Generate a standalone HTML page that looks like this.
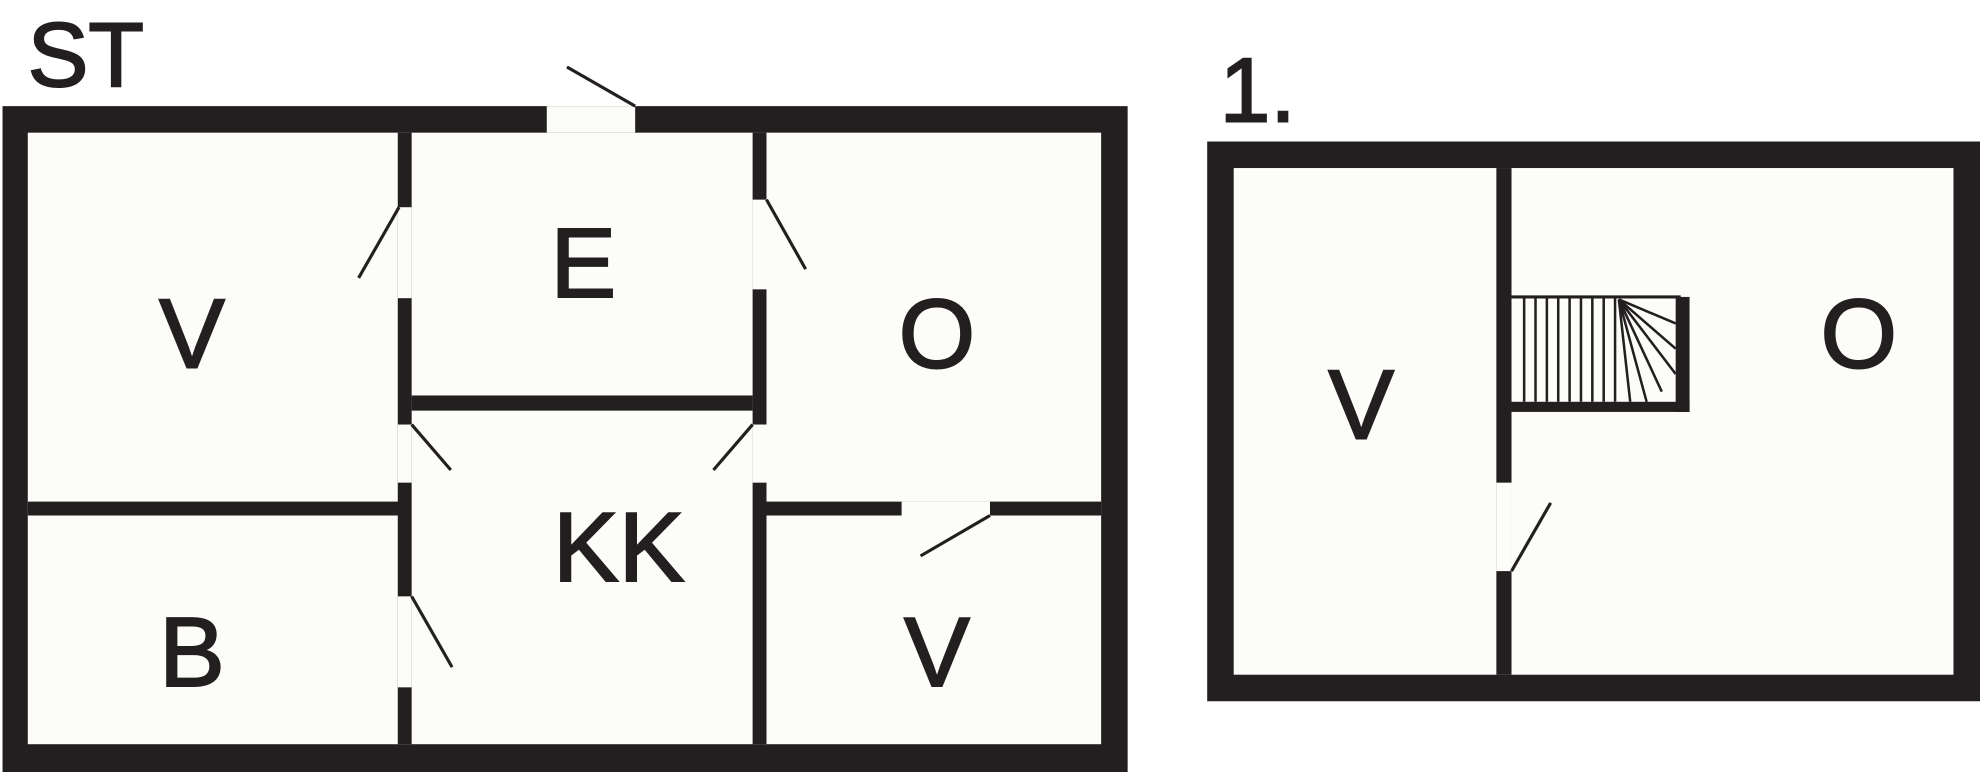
<!DOCTYPE html>
<html><head><meta charset="utf-8"><style>
html,body{margin:0;padding:0;background:#fff;width:1980px;height:772px;overflow:hidden}
svg{display:block}
text{font-family:"Liberation Sans",sans-serif;fill:#231f20;stroke:#231f20;stroke-width:1.6}
</style></head><body>
<svg width="1980" height="772" viewBox="0 0 1568 611" preserveAspectRatio="none" xmlns="http://www.w3.org/2000/svg">
<rect width="1568" height="611" fill="#fff"/>
<rect x="2" y="84" width="891" height="527" fill="#231f20"/>
<rect x="22" y="105" width="850" height="484" fill="#fcfdf8"/>
<rect x="433" y="84" width="70" height="21" fill="#fcfdf8"/>
<line x1="449" y1="53" x2="503" y2="84" stroke="#231f20" stroke-width="2.5"/>
<rect x="315" y="105" width="11" height="484" fill="#231f20"/>
<rect x="596" y="105" width="11" height="484" fill="#231f20"/>
<rect x="22" y="397" width="300" height="11" fill="#231f20"/>
<rect x="600" y="397" width="272" height="11" fill="#231f20"/>
<rect x="326" y="313" width="270" height="12" fill="#231f20"/>
<rect x="315" y="164" width="11" height="72" fill="#fcfdf8"/>
<rect x="315" y="336" width="11" height="46" fill="#fcfdf8"/>
<rect x="315" y="472" width="11" height="72" fill="#fcfdf8"/>
<rect x="596" y="158" width="11" height="71" fill="#fcfdf8"/>
<rect x="596" y="336" width="11" height="46" fill="#fcfdf8"/>
<rect x="714" y="397" width="70" height="11" fill="#fcfdf8"/>
<g stroke="#231f20" stroke-width="2.5">
<line x1="284" y1="220" x2="316" y2="164"/>
<line x1="326" y1="336" x2="357" y2="372"/>
<line x1="326" y1="472" x2="358" y2="528"/>
<line x1="607" y1="158" x2="638" y2="213"/>
<line x1="596" y1="336" x2="565" y2="372"/>
<line x1="729" y1="440" x2="784" y2="408"/>
</g>
<text x="22" y="68" font-size="72">ST</text>
<text x="152" y="291" font-size="78" text-anchor="middle">V</text>
<text x="462" y="235" font-size="78" text-anchor="middle">E</text>
<text x="742" y="291" font-size="78" text-anchor="middle">O</text>
<text x="490" y="460" font-size="78" text-anchor="middle">KK</text>
<text x="152" y="543" font-size="78" text-anchor="middle">B</text>
<text x="742" y="543" font-size="78" text-anchor="middle">V</text>
<text x="966" y="96" font-size="72">1.</text>
<rect x="956" y="112" width="612" height="443" fill="#231f20"/>
<rect x="977" y="133" width="570" height="401" fill="#fcfdf8"/>
<rect x="1185" y="133" width="12" height="401" fill="#231f20"/>
<rect x="1185" y="382" width="12" height="70" fill="#fcfdf8"/>
<line x1="1197" y1="452" x2="1228" y2="398" stroke="#231f20" stroke-width="2.5"/>
<rect x="1197" y="318" width="141" height="8" fill="#231f20"/>
<rect x="1327" y="235" width="11" height="91" fill="#231f20"/>
<line x1="1197" y1="235" x2="1331" y2="235" stroke="#231f20" stroke-width="2.5"/>
<g stroke="#231f20" stroke-width="2">
<line x1="1207" y1="235" x2="1207" y2="318"/>
<line x1="1216" y1="235" x2="1216" y2="318"/>
<line x1="1225" y1="235" x2="1225" y2="318"/>
<line x1="1234" y1="235" x2="1234" y2="318"/>
<line x1="1243" y1="235" x2="1243" y2="318"/>
<line x1="1252" y1="235" x2="1252" y2="318"/>
<line x1="1261" y1="235" x2="1261" y2="318"/>
<line x1="1270" y1="235" x2="1270" y2="318"/>
<line x1="1279" y1="235" x2="1279" y2="318"/>
<line x1="1282" y1="237" x2="1291" y2="318"/>
<line x1="1282" y1="237" x2="1304" y2="318"/>
<line x1="1282" y1="237" x2="1316" y2="310"/>
<line x1="1282" y1="237" x2="1327" y2="296"/>
<line x1="1282" y1="237" x2="1327" y2="276"/>
<line x1="1282" y1="237" x2="1327" y2="256"/>
</g>
<text x="1078" y="347" font-size="78" text-anchor="middle">V</text>
<text x="1472" y="291" font-size="78" text-anchor="middle">O</text>
</svg>
</body></html>
